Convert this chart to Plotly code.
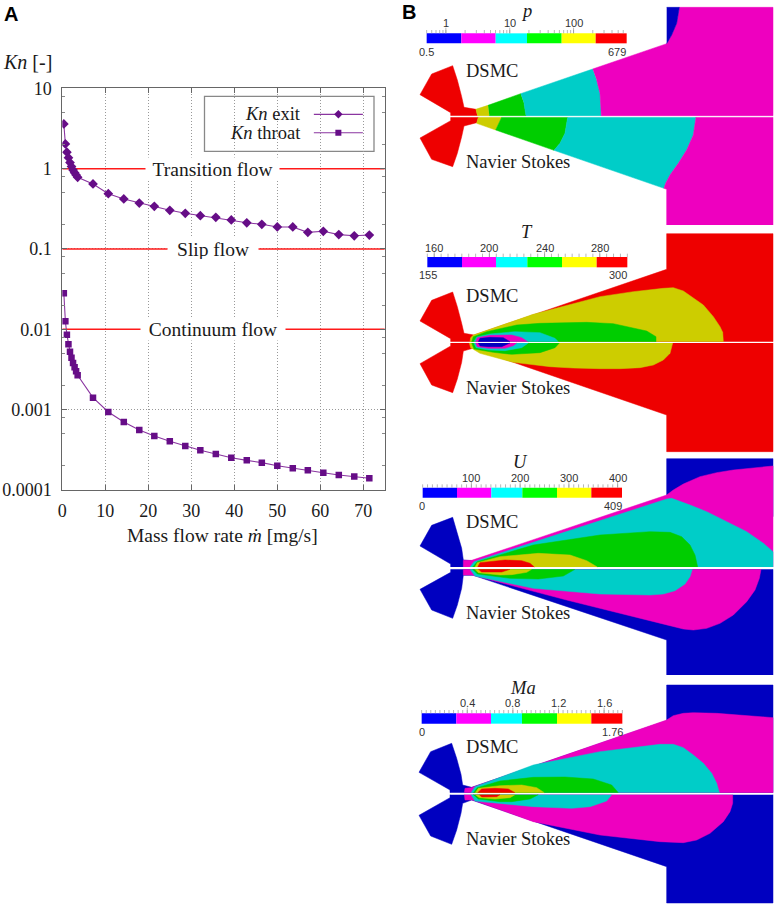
import math
import plotly.graph_objects as go

# ---------- Panel A data ----------
mass_flow_exit = [0.357, 0.714, 1.07, 1.43, 1.79, 2.14, 2.5, 2.86, 3.21, 3.57, 7.14, 10.7, 14.3, 17.9, 21.4, 25, 28.6,
                  32.1, 35.7, 39.3, 42.9, 46.4, 50, 53.6, 57.1, 60.7, 64.3, 67.9, 71.4]
kn_exit = [3.6, 2.03, 1.6, 1.37, 1.19, 1.06, 0.96, 0.89, 0.834, 0.78, 0.644, 0.488, 0.419, 0.373, 0.34, 0.303, 0.278,
           0.26, 0.248, 0.23, 0.212, 0.203, 0.188, 0.188, 0.161, 0.166, 0.151, 0.146, 0.149]
kn_throat = [0.0281, 0.0126, 0.00857, 0.0065, 0.00527, 0.00443, 0.00381, 0.00337, 0.003, 0.00268, 0.00141, 0.000935,
             0.000702, 0.000558, 0.00047, 0.000404, 0.000353, 0.000312, 0.000281, 0.000252, 0.000234, 0.000219, 0.0002,
             0.000186, 0.000176, 0.000164, 0.000154, 0.000147, 0.00014]
x_ticks = [0, 10, 20, 30, 40, 50, 60, 70]
y_ticks = [0.0001, 0.001, 0.01, 0.1, 1, 10]
y_labels = ["0.0001", "0.001", "0.01", "0.1", "1", "10"]
regime_names = ["Transition flow", "Slip flow", "Continuum flow"]
regime_kn = [1, 0.1, 0.01]
regime_gap = [(19.7, 50.2), (24.8, 45.3), (18.5, 51.5)]

# ---------- Panel B palettes ----------
FIELD = dict(b="#0000c0", m="#ee00bf", c="#00cdc8", g="#00cd00", y="#cdcd00", r="#ee0000")
BAR = ["#0000ff", "#ff00ff", "#00ffff", "#00ff00", "#ffff00", "#ff0000"]

# ---------- Pressure regions (painted in order) ----------
p_regions = [
    ("r", [(152,347),(152,338),(60,284),(95,222),(158,197),(172,240),(185,290),(192,322),(228,328),(232,347)]),
    ("y", [(227,328),(264,316),(268,347),(232,347)]),
    ("g", [(264,316),(362,281),(372,310),(378,347),(268,347)]),
    ("c", [(362,281),(578,207),(590,240),(600,280),(604,347),(378,347),(372,310)]),
    ("m", [(578,207),(800,131),(815,105),(830,70),(838,22),(1119,22),(1119,347),(604,347),(600,280),(590,240)]),
    ("b", [(800,22),(838,22),(830,70),(815,105),(800,131)]),
    ("r", [(152,352),(152,362),(60,414),(95,478),(158,500),(172,460),(185,410),(192,378),(230,368),(235,352)]),
    ("y", [(235,352),(230,370),(287,390),(305,352)]),
    ("g", [(305,352),(287,390),(462,451),(480,430),(495,400),(503,352)]),
    ("c", [(503,352),(495,400),(480,430),(462,451),(792,565),(797,550),(810,525),(835,490),(860,450),(880,405),(888,352)]),
    ("m", [(888,352),(880,405),(860,450),(835,490),(810,525),(797,550),(792,565),(800,568),(800,676),(1119,676),(1119,352)]),
]

# ---------- Temperature regions ----------
t_regions = [
    ("r", [(152,350),(152,341),(60,288),(95,226),(158,201),(172,245),(185,295),(192,325),(222,330),(800,133),(800,26),(1119,26),(1119,350)]),
    ("y", [(210,350),(212,338),(220,330),(400,268),(600,215),(700,200),(790,190),(820,188),(850,198),(880,218),(910,240),(940,275),(960,305),(968,322),(970,350)]),
    ("g", [(215,350),(220,335),(260,320),(350,300),(420,295),(480,293),(560,292),(640,296),(700,308),(740,318),(768,335),(768,350)]),
    ("c", [(222,350),(230,336),(270,327),(345,320),(420,323),(465,340),(475,350)]),
    ("m", [(227,350),(232,338),(270,331),(335,330),(365,338),(383,350)]),
    ("b", [(235,350),(240,340),(270,337),(310,338),(330,350)]),
    ("r", [(152,354),(152,363),(60,416),(95,480),(158,503),(172,462),(185,412),(190,378),(218,370),(800,570),(800,680),(1119,680),(1119,354)]),
    ("y", [(208,354),(212,368),(240,385),(340,412),(450,425),(520,429),(600,431),(660,431),(720,428),(760,420),(790,405),(810,385),(818,354)]),
    ("g", [(215,354),(222,372),(280,382),(335,388),(420,383),(465,368),(478,354)]),
    ("c", [(222,354),(228,368),(265,375),(315,377),(365,368),(385,354)]),
    ("m", [(227,354),(232,365),(265,370),(315,370),(340,362),(350,354)]),
    ("b", [(235,354),(240,363),(265,365),(305,365),(330,354)]),
]

# ---------- Velocity regions ----------
u_regions = [
    ("b", [(152,351),(152,342),(60,288),(95,226),(158,202),(172,247),(185,295),(190,330),(215,332),(215,351)]),
    ("b", [(800,135),(800,26),(1119,26),(1119,200),(900,140)]),
    ("m", [(190,351),(190,331),(215,331),(800,135),(820,120),(850,102),(900,80),(950,68),(1000,60),(1060,53),(1119,48),(1119,351)]),
    ("c", [(210,351),(222,335),(800,147),(815,145),(870,165),(920,185),(980,215),(1040,245),(1090,280),(1119,305),(1119,351)]),
    ("g", [(218,351),(232,335),(400,285),(600,255),(750,245),(810,247),(845,260),(870,285),(885,315),(893,351)]),
    ("y", [(225,351),(232,338),(300,320),(415,310),(510,315),(560,332),(592,351)]),
    ("r", [(233,351),(240,338),(315,330),(365,332),(390,340),(403,351)]),
    ("b", [(152,358),(152,367),(60,418),(95,480),(158,505),(172,465),(185,415),(190,376),(220,376),(800,570),(800,680),(1119,680),(1119,358)]),
    ("m", [(190,358),(190,375),(215,375),(500,450),(810,527),(850,537),(880,540),(920,535),(960,520),(1000,495),(1040,455),(1065,420),(1078,385),(1083,358)]),
    ("c", [(210,358),(225,378),(400,415),(600,432),(750,435),(790,432),(825,422),(855,402),(870,380),(877,358)]),
    ("g", [(218,358),(232,372),(330,385),(415,387),(490,378),(525,358)]),
    ("y", [(225,358),(235,368),(300,375),(335,374),(380,367),(395,358)]),
    ("r", [(235,358),(245,366),(305,366),(330,358)]),
]

# ---------- Mach regions ----------
ma_regions = [
    ("b", [(150,353),(150,345),(57,292),(92,230),(155,205),(170,250),(183,298),(188,330),(215,337),(800,137),(800,30),(1119,30),(1119,353)]),
    ("m", [(193,353),(195,340),(213,338),(800,135),(820,122),(850,115),(880,113),(950,115),(1119,128),(1119,353)]),
    ("c", [(213,353),(225,335),(400,270),(600,230),(780,208),(820,208),(850,218),(880,240),(910,265),(935,295),(950,325),(958,353)]),
    ("g", [(220,353),(232,338),(300,318),(400,307),(495,306),(580,312),(635,330),(655,353)]),
    ("y", [(226,353),(235,340),(300,332),(365,330),(410,338),(433,353)]),
    ("r", [(233,353),(245,342),(285,340),(325,342),(345,353)]),
    ("b", [(150,359),(150,368),(57,421),(92,483),(155,508),(170,465),(183,415),(188,385),(215,375),(800,575),(800,684),(1119,684),(1119,359)]),
    ("m", [(193,359),(195,375),(218,375),(400,440),(600,480),(780,500),(850,503),(890,495),(930,475),(970,440),(990,410),(998,385),(998,359)]),
    ("c", [(213,359),(225,378),(400,395),(515,400),(570,395),(620,378),(635,359)]),
    ("g", [(220,359),(235,372),(300,380),(335,380),(390,372),(415,359)]),
    ("y", [(226,359),(238,368),(285,372),(330,368),(345,359)]),
    ("r", [(238,359),(245,366),(290,365),(300,359)]),
]

# ---------- Colour bars ----------
p_edges = [80, 184, 287, 381, 485, 587, 680]
t_edges = [82, 186, 288, 382, 486, 590, 682]
u_edges = [68, 171, 274, 367, 471, 574, 666]
ma_edges = [65, 169, 273, 366, 471, 574, 667]

p_minor = [0.5,0.6,0.7,0.8,0.9,1,2,3,4,5,6,7,8,9,10,20,30,40,50,60,70,80,90,100,200,300,400,500,600]
t_minor = [155,160,165,170,175,180,185,190,195,200,205,210,215,220,225,230,235,240,245,250,255,260,265,270,275,280,285,290,295,300]
u_minor = list(range(0, 410, 10))
ma_minor = [0,0.04,0.08,0.12,0.16,0.2,0.24,0.28,0.32,0.36,0.4,0.44,0.48,0.52,0.56,0.6,0.64,0.68,0.72,0.76,0.8,0.84,0.88,
            0.92,0.96,1.0,1.04,1.08,1.12,1.16,1.2,1.24,1.28,1.32,1.36,1.4,1.44,1.48,1.52,1.56,1.6,1.64,1.68,1.72,1.76]

panels = [
    dict(off=0, regions=p_regions, edges=p_edges, bar=(100,130), log=True, vmin=0.5, vmax=679, minor=p_minor,
         major=[1,10,100], major_text=["1","10","100"], major_y=70, end_y=157, end_x=(80,652), end_text=("0.5","679"),
         title="p", title_xy=(380,32), dsmc_y=212, ns_y=485),
    dict(off=225, regions=t_regions, edges=t_edges, bar=(96,127), log=False, vmin=155, vmax=300, minor=t_minor,
         major=[160,200,240,280], major_text=["160","200","240","280"], major_y=69, end_y=150, end_x=(85,655), end_text=("155","300"),
         title="T", title_xy=(380,20), dsmc_y=213, ns_y=490),
    dict(off=450, regions=u_regions, edges=u_edges, bar=(113,143), log=False, vmin=0, vmax=409, minor=u_minor,
         major=[100,200,300,400], major_text=["100","200","300","400"], major_y=85, end_y=167, end_x=(67,638), end_text=("0","409"),
         title="U", title_xy=(360,35), dsmc_y=215, ns_y=490),
    dict(off=675, regions=ma_regions, edges=ma_edges, bar=(115,146), log=False, vmin=0, vmax=1.76, minor=ma_minor,
         major=[0.4,0.8,1.2,1.6], major_text=["0.4","0.8","1.2","1.6"], major_y=85, end_y=170, end_x=(65,636), end_text=("0","1.76"),
         title="Ma", title_xy=(368,38), dsmc_y=217, ns_y=493),
]

SERIF = "Liberation Serif"
SANS = "Liberation Sans"
W, H = 775, 905
fig = go.Figure()
annotations = []
shapes = []

# ---------- Panel A ----------
LINE = "#8a35a0"
MARK = "#660d87"
for (lo, hi), k in zip(regime_gap, regime_kn):
    fig.add_trace(go.Scatter(x=[0, lo, None, hi, 75], y=[k, k, None, k, k], mode="lines",
                             line=dict(color="#ff1a1a", width=1.5), showlegend=False, hoverinfo="skip"))
fig.add_trace(go.Scatter(x=mass_flow_exit, y=kn_exit, mode="lines+markers", name="Kn exit", showlegend=False,
                         line=dict(color=LINE, width=1.1), marker=dict(symbol="diamond", size=7.5, color=MARK)))
fig.add_trace(go.Scatter(x=mass_flow_exit, y=kn_throat, mode="lines+markers", name="Kn throat", showlegend=False,
                         line=dict(color=LINE, width=1.1), marker=dict(symbol="square", size=6.5, color=MARK)))
# legend samples
fig.add_trace(go.Scatter(x=[58.5, 69.9], y=[4.74, 4.74], mode="lines", line=dict(color=LINE, width=1.1), showlegend=False))
fig.add_trace(go.Scatter(x=[58.5, 69.9], y=[2.8, 2.8], mode="lines", line=dict(color=LINE, width=1.1), showlegend=False))
fig.add_trace(go.Scatter(x=[64.2], y=[4.74], mode="markers", marker=dict(symbol="diamond", size=6.5, color=MARK), showlegend=False))
fig.add_trace(go.Scatter(x=[64.2], y=[2.8], mode="markers", marker=dict(symbol="square", size=6, color=MARK), showlegend=False))

shapes.append(dict(type="rect", xref="x", yref="paper", x0=(204.5-62.3)/4.3, x1=(374-62.3)/4.3,
                   y0=1-151.3/H, y1=1-96.3/H, fillcolor="white", line=dict(color="#888888", width=1.3), layer="below"))

def txt(text, x, y, xref="paper", yref="paper", size=19.5, family=SERIF, color="#1a1a1a", anchor="center", **kw):
    annotations.append(dict(text=text, x=x, y=y, xref=xref, yref=yref, showarrow=False, xanchor=anchor, yanchor="middle",
                            font=dict(family=family, size=size, color=color), **kw))

gap_px = [(hi - lo) * 4.3 for lo, hi in regime_gap]
for name, k, (lo, hi), g in zip(regime_names, regime_kn, regime_gap, gap_px):
    txt(name, (lo + hi) / 2, math.log10(k), xref="x", yref="y", bgcolor="white", width=g, height=20)

txt("<i>Kn</i> exit", 302.5 / W, 1 - 114.3 / H, anchor="right", size=18.5)
txt("<i>Kn</i> throat", 302.5 / W, 1 - 132.7 / H, anchor="right", size=18.5)
txt("<i>Kn</i> [-]", 27.5 / W, 1 - 62 / H, size=20)
txt("Mass flow rate <i>ṁ</i> [mg/s]", 223 / W, 1 - 535 / H)
txt("<b>A</b>", 11 / W, 1 - 14 / H, size=20, family=SANS, color="black")
txt("<b>B</b>", 409 / W, 1 - 12 / H, size=20, family=SANS, color="black")

layout_axes = dict(
    xaxis=dict(domain=[62.3 / W, 384.8 / W], range=[0, 75], tickmode="array", tickvals=x_ticks, ticks="inside", ticklen=5,
               tickcolor="#666", showline=True, linecolor="#666", linewidth=1, mirror="ticks", showgrid=True,
               gridcolor="#999999", griddash="1px,2px", gridwidth=1, zeroline=False, ticklabelstandoff=4,
               tickfont=dict(family=SERIF, size=18, color="#1a1a1a")),
    yaxis=dict(domain=[1 - 490 / H, 1 - 88.3 / H], type="log", range=[-4, 1], tickmode="array", tickvals=y_ticks,
               ticktext=y_labels, ticks="inside", ticklen=5, tickcolor="#666", showline=True, linecolor="#666", linewidth=1,
               mirror="ticks", showgrid=True, gridcolor="#999999", griddash="1px,2px", gridwidth=1, zeroline=False,
               ticklabelstandoff=6, tickfont=dict(family=SERIF, size=18, color="#1a1a1a"),
               minor=dict(ticks="inside", ticklen=3, tickcolor="#888", tickmode="array", showgrid=False,
                          tickvals=[m * 10.0 ** e for e in range(-4, 1) for m in (2, 5, 8)])),
)

# ---------- Panel B ----------
def bar_x(pn, v):
    e0, e1 = pn["edges"][0], pn["edges"][-1]
    if pn["log"]:
        return e0 + (math.log10(v) - math.log10(pn["vmin"])) / (math.log10(pn["vmax"]) - math.log10(pn["vmin"])) * (e1 - e0)
    return e0 + (v - pn["vmin"]) / (pn["vmax"] - pn["vmin"]) * (e1 - e0)

for i, pn in enumerate(panels):
    n = i + 2
    xa, ya = f"x{n}", f"y{n}"
    layout_axes[f"xaxis{n}"] = dict(domain=[400 / W, 1], range=[0, 1125], visible=False, fixedrange=True)
    layout_axes[f"yaxis{n}"] = dict(domain=[1 - (pn["off"] + 230) / H, 1 - pn["off"] / H], range=[690, 0], visible=False, fixedrange=True)
    for col, poly in pn["regions"]:
        fig.add_trace(go.Scatter(x=[p[0] for p in poly], y=[p[1] for p in poly], xaxis=xa, yaxis=ya, mode="lines",
                                 fill="toself", fillcolor=FIELD[col], line=dict(color=FIELD[col], width=0.5),
                                 showlegend=False, hoverinfo="skip"))
    y0, y1 = pn["bar"]
    for j, col in enumerate(BAR):
        e0, e1 = pn["edges"][j], pn["edges"][j + 1]
        fig.add_trace(go.Scatter(x=[e0, e1, e1, e0, e0], y=[y0, y0, y1, y1, y0], xaxis=xa, yaxis=ya, mode="lines",
                                 fill="toself", fillcolor=col, line=dict(color=col, width=0), showlegend=False, hoverinfo="skip"))
    tx, ty = [], []
    for v in pn["minor"]:
        tx += [bar_x(pn, v), bar_x(pn, v), None]
        ty += [y0 - 10, y0, None]
    for v in pn["major"]:
        tx += [bar_x(pn, v), bar_x(pn, v), None]
        ty += [y0 - 17, y0, None]
    fig.add_trace(go.Scatter(x=tx, y=ty, xaxis=xa, yaxis=ya, mode="lines", line=dict(color="#999999", width=0.7),
                             showlegend=False, hoverinfo="skip"))
    for v, s in zip(pn["major"], pn["major_text"]):
        txt(s, bar_x(pn, v), pn["major_y"], xref=xa, yref=ya, size=11, family=SANS, color="#333333")
    for x, s in zip(pn["end_x"], pn["end_text"]):
        txt(s, x, pn["end_y"], xref=xa, yref=ya, size=11, family=SANS, color="#333333")
    txt(f"<i>{pn['title']}</i>", pn["title_xy"][0], pn["title_xy"][1], xref=xa, yref=ya, size=18.5)
    txt("DSMC", 192, pn["dsmc_y"], xref=xa, yref=ya, size=18.5, anchor="left")
    txt("Navier Stokes", 192, pn["ns_y"], xref=xa, yref=ya, size=18.5, anchor="left")

fig.update_layout(width=W, height=H, margin=dict(l=0, r=0, t=0, b=0, pad=0, autoexpand=False), paper_bgcolor="white",
                  plot_bgcolor="white", showlegend=False, annotations=annotations, shapes=shapes, **layout_axes)
fig.write_html("out.html", post_script="document.body.style.margin='0';", config=dict(displayModeBar=False))
